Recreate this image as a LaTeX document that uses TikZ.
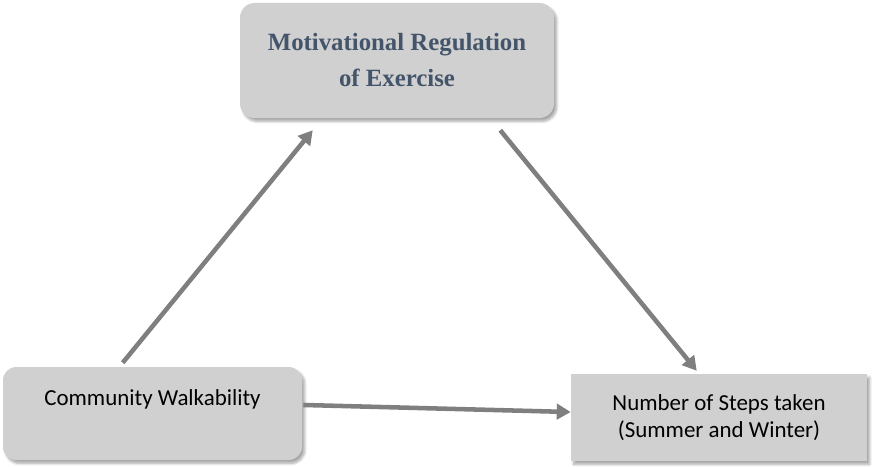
\documentclass[tikz,border=0pt]{standalone}
\usepackage{fontspec}
\setmainfont{Carlito}
\newfontfamily\headfont{Liberation Serif}
\usepackage{tikz}
\usetikzlibrary{arrows.meta,shadows.blur}
\definecolor{boxc}{HTML}{D0D0D0}
\definecolor{headc}{HTML}{44546A}
\definecolor{arrc}{HTML}{7F7F7F}

\begin{document}
\begin{tikzpicture}[x=0.75pt, y=-0.75pt, font=\fontsize{17.2}{20.3}\selectfont,
  box/.style={fill=boxc, inner sep=0pt, align=center, blur shadow={shadow xshift=2pt, shadow yshift=-2.5pt, shadow blur steps=6, shadow opacity=35}},
  link/.style={draw=arrc, line width=3.4pt, -{Triangle[length=10.5pt, width=11.5pt]}}]
  \useasboundingbox (0,0) rectangle (874,467);
  \node[box, rounded corners=11pt, minimum width=235.5pt, minimum height=86.25pt, text=headc, font=\headfont\bfseries\fontsize{18.6}{27}\selectfont] (motiv) at (397,60.5) {Motivational Regulation\\of Exercise};
  \node[box, rounded corners=10pt, minimum width=224.25pt, minimum height=69.75pt, text depth=24pt] (walk) at (152.5,413.5) {Community Walkability};
  \node[box, minimum width=222pt, minimum height=65.25pt] (steps) at (719,417.5) {Number of Steps taken\\(Summer and Winter)};
  \draw[link] ([xshift=90pt, yshift=3pt]walk.north west) -- ([xshift=54.75pt, yshift=-9pt]motiv.south west);
  \draw[link] ([xshift=-40.5pt, yshift=-9pt]motiv.south east) -- ([xshift=94.5pt, yshift=2.25pt]steps.north west);
  \draw[link] ([xshift=0.75pt, yshift=6.4pt]walk.east) -- ([yshift=4.1pt]steps.west);
\end{tikzpicture}
\end{document}
